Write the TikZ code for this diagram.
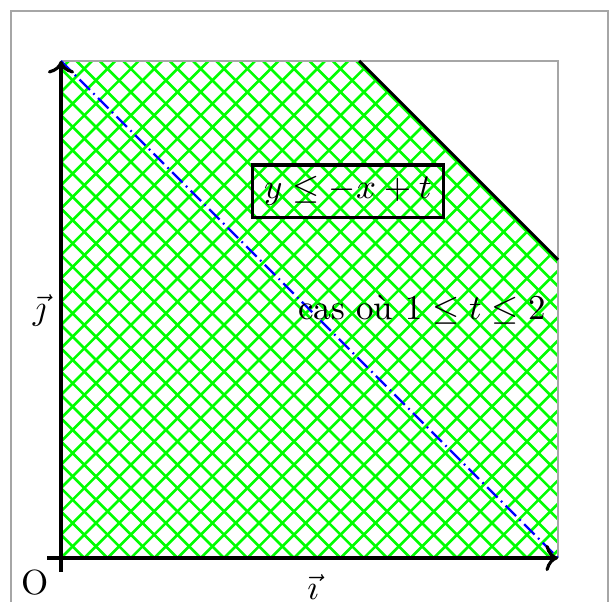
\documentclass[tikz,border=0pt]{standalone}
\usetikzlibrary{arrows.meta}
\begin{document}
\begin{tikzpicture}[x=5cm,y=5cm,
  frame/.style={draw=gray!70, line width=0.45pt},
  hatch/.style={green, line width=0.75pt},
  axis/.style={line width=0.9pt,->},
  bound/.style={line width=0.9pt},
  droite/.style={blue, line width=0.65pt, dash pattern=on 4.2pt off 1.4pt on 0.5pt off 1.4pt},
  boxed/.style={draw, line width=0.9pt, inner sep=3.33pt}]
\useasboundingbox (-0.1227,-0.0865) rectangle (1.1026,1.1227);
\coordinate (O) at (0,0);
\coordinate (I) at (1,0);
\coordinate (J) at (0,1);
\coordinate (IJ) at (1,1);
\coordinate (A) at (0.6,1);
\coordinate (B) at (1,0.6);
\draw[frame] (-0.1,-0.2) -- (-0.1,1.1) -- (1.1,1.1) -- (1.1,-0.2);
\begin{scope}
  \clip (O) -- (I) -- (B) -- (A) -- (J) -- cycle;
  \foreach \k in {0,...,44} \draw[hatch] ({0.04688*\k},0) -- ++(-1.3,1.3);
  \foreach \k in {-28,...,22} \draw[hatch] ({0.04688*\k},0) -- ++(1.3,1.3);
\end{scope}
\draw[frame] (J) -- (IJ) -- (I);
\draw[droite] (J) -- (I);
\draw[bound] (A) -- (B);
\coordinate (xs) at (-0.028,0);
\coordinate (ys) at (0,-0.028);
\draw[axis] (xs) -- (I);
\draw[axis] (ys) -- (J);
\node (o) at (-0.0513,-0.0503) {O};
\node (j) at (-0.0433,0.499) {$\vec{\jmath}$};
\node (i) at (0.507,-0.058) {$\vec{\imath}$};
\node[boxed] (ineq) at (0.577,0.738) {$y\leq -x+t$};
\node[left] (cas) at (1,0.5) {cas où $1\leq t\leq 2$};
\end{tikzpicture}
\end{document}
